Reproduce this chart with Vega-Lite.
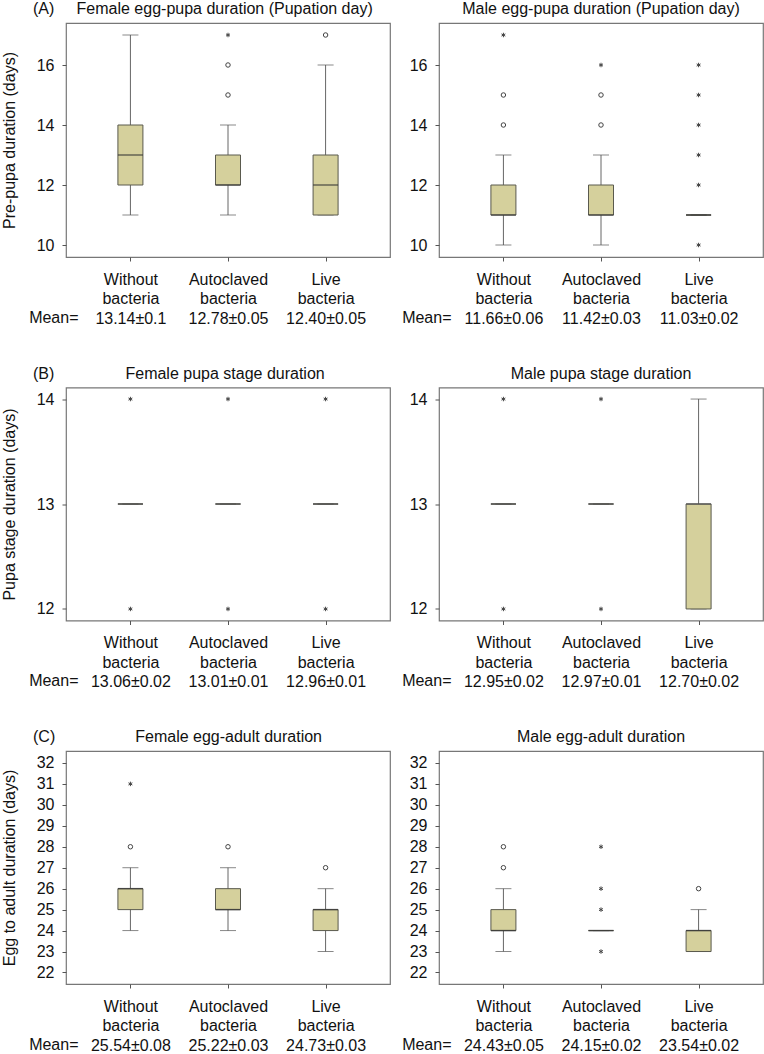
{
  "$schema": "https://vega.github.io/schema/vega-lite/v6.json",
  "padding": {"left": 0, "top": 0, "right": 0, "bottom": 0},
  "background": "white",
  "data": {"values": [
    {"panel":"A1","g":1,"lab":"Without|bacteria|13.14±0.1","kind":"box","lower":11,"q1":12,"median":13,"q3":14,"upper":17},
    {"panel":"A1","g":2,"lab":"Autoclaved|bacteria|12.78±0.05","kind":"box","lower":11,"q1":12,"median":12,"q3":13,"upper":14},
    {"panel":"A1","g":3,"lab":"Live|bacteria|12.40±0.05","kind":"box","lower":11,"q1":11,"median":12,"q3":13,"upper":16},
    {"panel":"A1","g":2,"lab":"Autoclaved|bacteria|12.78±0.05","kind":"circle","v":15},
    {"panel":"A1","g":2,"lab":"Autoclaved|bacteria|12.78±0.05","kind":"circle","v":16},
    {"panel":"A1","g":2,"lab":"Autoclaved|bacteria|12.78±0.05","kind":"star","v":17},
    {"panel":"A1","g":3,"lab":"Live|bacteria|12.40±0.05","kind":"circle","v":17},

    {"panel":"A2","g":1,"lab":"Without|bacteria|11.66±0.06","kind":"box","lower":10,"q1":11,"median":11,"q3":12,"upper":13},
    {"panel":"A2","g":2,"lab":"Autoclaved|bacteria|11.42±0.03","kind":"box","lower":10,"q1":11,"median":11,"q3":12,"upper":13},
    {"panel":"A2","g":3,"lab":"Live|bacteria|11.03±0.02","kind":"box","lower":11,"q1":11,"median":11,"q3":11,"upper":11},
    {"panel":"A2","g":1,"lab":"Without|bacteria|11.66±0.06","kind":"circle","v":14},
    {"panel":"A2","g":1,"lab":"Without|bacteria|11.66±0.06","kind":"circle","v":15},
    {"panel":"A2","g":1,"lab":"Without|bacteria|11.66±0.06","kind":"star","v":17},
    {"panel":"A2","g":2,"lab":"Autoclaved|bacteria|11.42±0.03","kind":"circle","v":14},
    {"panel":"A2","g":2,"lab":"Autoclaved|bacteria|11.42±0.03","kind":"circle","v":15},
    {"panel":"A2","g":2,"lab":"Autoclaved|bacteria|11.42±0.03","kind":"star","v":16},
    {"panel":"A2","g":3,"lab":"Live|bacteria|11.03±0.02","kind":"star","v":10},
    {"panel":"A2","g":3,"lab":"Live|bacteria|11.03±0.02","kind":"star","v":12},
    {"panel":"A2","g":3,"lab":"Live|bacteria|11.03±0.02","kind":"star","v":13},
    {"panel":"A2","g":3,"lab":"Live|bacteria|11.03±0.02","kind":"star","v":14},
    {"panel":"A2","g":3,"lab":"Live|bacteria|11.03±0.02","kind":"star","v":15},
    {"panel":"A2","g":3,"lab":"Live|bacteria|11.03±0.02","kind":"star","v":16},

    {"panel":"B1","g":1,"lab":"Without|bacteria|13.06±0.02","kind":"box","lower":13,"q1":13,"median":13,"q3":13,"upper":13},
    {"panel":"B1","g":2,"lab":"Autoclaved|bacteria|13.01±0.01","kind":"box","lower":13,"q1":13,"median":13,"q3":13,"upper":13},
    {"panel":"B1","g":3,"lab":"Live|bacteria|12.96±0.01","kind":"box","lower":13,"q1":13,"median":13,"q3":13,"upper":13},
    {"panel":"B1","g":1,"lab":"Without|bacteria|13.06±0.02","kind":"star","v":12},
    {"panel":"B1","g":1,"lab":"Without|bacteria|13.06±0.02","kind":"star","v":14},
    {"panel":"B1","g":2,"lab":"Autoclaved|bacteria|13.01±0.01","kind":"star","v":12},
    {"panel":"B1","g":2,"lab":"Autoclaved|bacteria|13.01±0.01","kind":"star","v":14},
    {"panel":"B1","g":3,"lab":"Live|bacteria|12.96±0.01","kind":"star","v":12},
    {"panel":"B1","g":3,"lab":"Live|bacteria|12.96±0.01","kind":"star","v":14},

    {"panel":"B2","g":1,"lab":"Without|bacteria|12.95±0.02","kind":"box","lower":13,"q1":13,"median":13,"q3":13,"upper":13},
    {"panel":"B2","g":2,"lab":"Autoclaved|bacteria|12.97±0.01","kind":"box","lower":13,"q1":13,"median":13,"q3":13,"upper":13},
    {"panel":"B2","g":3,"lab":"Live|bacteria|12.70±0.02","kind":"box","lower":12,"q1":12,"median":13,"q3":13,"upper":14},
    {"panel":"B2","g":1,"lab":"Without|bacteria|12.95±0.02","kind":"star","v":12},
    {"panel":"B2","g":1,"lab":"Without|bacteria|12.95±0.02","kind":"star","v":14},
    {"panel":"B2","g":2,"lab":"Autoclaved|bacteria|12.97±0.01","kind":"star","v":12},
    {"panel":"B2","g":2,"lab":"Autoclaved|bacteria|12.97±0.01","kind":"star","v":14},

    {"panel":"C1","g":1,"lab":"Without|bacteria|25.54±0.08","kind":"box","lower":24,"q1":25,"median":26,"q3":26,"upper":27},
    {"panel":"C1","g":2,"lab":"Autoclaved|bacteria|25.22±0.03","kind":"box","lower":24,"q1":25,"median":25,"q3":26,"upper":27},
    {"panel":"C1","g":3,"lab":"Live|bacteria|24.73±0.03","kind":"box","lower":23,"q1":24,"median":25,"q3":25,"upper":26},
    {"panel":"C1","g":1,"lab":"Without|bacteria|25.54±0.08","kind":"circle","v":28},
    {"panel":"C1","g":1,"lab":"Without|bacteria|25.54±0.08","kind":"star","v":31},
    {"panel":"C1","g":2,"lab":"Autoclaved|bacteria|25.22±0.03","kind":"circle","v":28},
    {"panel":"C1","g":3,"lab":"Live|bacteria|24.73±0.03","kind":"circle","v":27},

    {"panel":"C2","g":1,"lab":"Without|bacteria|24.43±0.05","kind":"box","lower":23,"q1":24,"median":24,"q3":25,"upper":26},
    {"panel":"C2","g":2,"lab":"Autoclaved|bacteria|24.15±0.02","kind":"box","lower":24,"q1":24,"median":24,"q3":24,"upper":24},
    {"panel":"C2","g":3,"lab":"Live|bacteria|23.54±0.02","kind":"box","lower":23,"q1":23,"median":24,"q3":24,"upper":25},
    {"panel":"C2","g":1,"lab":"Without|bacteria|24.43±0.05","kind":"circle","v":27},
    {"panel":"C2","g":1,"lab":"Without|bacteria|24.43±0.05","kind":"circle","v":28},
    {"panel":"C2","g":2,"lab":"Autoclaved|bacteria|24.15±0.02","kind":"star","v":23},
    {"panel":"C2","g":2,"lab":"Autoclaved|bacteria|24.15±0.02","kind":"star","v":25},
    {"panel":"C2","g":2,"lab":"Autoclaved|bacteria|24.15±0.02","kind":"star","v":26},
    {"panel":"C2","g":2,"lab":"Autoclaved|bacteria|24.15±0.02","kind":"star","v":28},
    {"panel":"C2","g":3,"lab":"Live|bacteria|23.54±0.02","kind":"circle","v":26}
  ]},
  "vconcat": [
    {"spacing": 10, "hconcat": [
      {"width": 324, "height": 234,
       "title": {"text": "(A)\u00a0\u00a0\u00a0\u00a0\u00a0Female egg-pupa duration (Pupation day)", "anchor": "start", "dx": -33},
       "transform": [{"filter": "datum.panel == 'A1'"}],
       "encoding": {"x": {"field": "lab", "type": "nominal", "sort": {"field": "g", "op": "min"}, "scale": {"type": "point", "padding": 0.66}, "title": "Mean="}},
       "layer": [
         {"transform": [{"filter": "datum.kind == 'box'"}], "layer": [
           {"mark": {"type": "rule", "color": "#666", "strokeWidth": 1}, "encoding": {"y": {"field": "lower", "type": "quantitative", "scale": {"domain": [9.6, 17.4]}, "axis": {"tickCount": 4}, "title": "Pre-pupa duration (days)"}, "y2": {"field": "upper"}}},
           {"mark": {"type": "tick", "color": "#555", "size": 16, "thickness": 1}, "encoding": {"y": {"field": "lower", "type": "quantitative", "scale": {"domain": [9.6, 17.4]}, "axis": {"tickCount": 4}, "title": "Pre-pupa duration (days)"}}},
           {"mark": {"type": "tick", "color": "#555", "size": 16, "thickness": 1}, "encoding": {"y": {"field": "upper", "type": "quantitative", "scale": {"domain": [9.6, 17.4]}, "axis": {"tickCount": 4}, "title": "Pre-pupa duration (days)"}}},
           {"mark": {"type": "bar", "size": 25, "fill": "#d5d09c", "stroke": "#5a5a4e", "strokeWidth": 1}, "encoding": {"y": {"field": "q1", "type": "quantitative", "scale": {"domain": [9.6, 17.4]}, "axis": {"tickCount": 4}, "title": "Pre-pupa duration (days)"}, "y2": {"field": "q3"}}},
           {"mark": {"type": "tick", "color": "#333", "size": 25, "thickness": 1.5}, "encoding": {"y": {"field": "median", "type": "quantitative", "scale": {"domain": [9.6, 17.4]}, "axis": {"tickCount": 4}, "title": "Pre-pupa duration (days)"}}}
         ]},
         {"transform": [{"filter": "datum.kind != 'box'"}], "mark": {"type": "point", "filled": false, "size": 20, "color": "#444", "strokeWidth": 1, "opacity": 1},
          "encoding": {"y": {"field": "v", "type": "quantitative", "scale": {"domain": [9.6, 17.4]}, "axis": {"tickCount": 4}, "title": "Pre-pupa duration (days)"},
                       "shape": {"field": "kind", "type": "nominal", "scale": {"domain": ["circle", "star"], "range": ["circle", "M0,-1L0,1M-0.87,-0.5L0.87,0.5M-0.87,0.5L0.87,-0.5"]}, "legend": null}}}
       ]},
      {"width": 324, "height": 234,
       "title": {"text": "Male egg-pupa duration (Pupation day)"},
       "transform": [{"filter": "datum.panel == 'A2'"}],
       "encoding": {"x": {"field": "lab", "type": "nominal", "sort": {"field": "g", "op": "min"}, "scale": {"type": "point", "padding": 0.66}, "title": "Mean="}},
       "layer": [
         {"transform": [{"filter": "datum.kind == 'box'"}], "layer": [
           {"mark": {"type": "rule", "color": "#666", "strokeWidth": 1}, "encoding": {"y": {"field": "lower", "type": "quantitative", "scale": {"domain": [9.6, 17.4]}, "axis": {"tickCount": 4}, "title": null}, "y2": {"field": "upper"}}},
           {"mark": {"type": "tick", "color": "#555", "size": 16, "thickness": 1}, "encoding": {"y": {"field": "lower", "type": "quantitative", "scale": {"domain": [9.6, 17.4]}, "axis": {"tickCount": 4}, "title": null}}},
           {"mark": {"type": "tick", "color": "#555", "size": 16, "thickness": 1}, "encoding": {"y": {"field": "upper", "type": "quantitative", "scale": {"domain": [9.6, 17.4]}, "axis": {"tickCount": 4}, "title": null}}},
           {"mark": {"type": "bar", "size": 25, "fill": "#d5d09c", "stroke": "#5a5a4e", "strokeWidth": 1}, "encoding": {"y": {"field": "q1", "type": "quantitative", "scale": {"domain": [9.6, 17.4]}, "axis": {"tickCount": 4}, "title": null}, "y2": {"field": "q3"}}},
           {"mark": {"type": "tick", "color": "#333", "size": 25, "thickness": 1.5}, "encoding": {"y": {"field": "median", "type": "quantitative", "scale": {"domain": [9.6, 17.4]}, "axis": {"tickCount": 4}, "title": null}}}
         ]},
         {"transform": [{"filter": "datum.kind != 'box'"}], "mark": {"type": "point", "filled": false, "size": 20, "color": "#444", "strokeWidth": 1, "opacity": 1},
          "encoding": {"y": {"field": "v", "type": "quantitative", "scale": {"domain": [9.6, 17.4]}, "axis": {"tickCount": 4}, "title": null},
                       "shape": {"field": "kind", "type": "nominal", "scale": {"domain": ["circle", "star"], "range": ["circle", "M0,-1L0,1M-0.87,-0.5L0.87,0.5M-0.87,0.5L0.87,-0.5"]}, "legend": null}}}
       ]}
    ]},
    {"spacing": 10, "hconcat": [
      {"width": 324, "height": 233,
       "title": {"text": "(B)\u00a0\u00a0\u00a0\u00a0\u00a0\u00a0\u00a0\u00a0\u00a0\u00a0\u00a0\u00a0\u00a0\u00a0\u00a0\u00a0Female pupa stage duration", "anchor": "start", "dx": -33},
       "transform": [{"filter": "datum.panel == 'B1'"}],
       "encoding": {"x": {"field": "lab", "type": "nominal", "sort": {"field": "g", "op": "min"}, "scale": {"type": "point", "padding": 0.66}, "title": "Mean="}},
       "layer": [
         {"transform": [{"filter": "datum.kind == 'box'"}], "layer": [
           {"mark": {"type": "rule", "color": "#666", "strokeWidth": 1}, "encoding": {"y": {"field": "lower", "type": "quantitative", "scale": {"domain": [11.89, 14.11]}, "axis": {"tickCount": 3}, "title": "Pupa stage duration (days)"}, "y2": {"field": "upper"}}},
           {"mark": {"type": "tick", "color": "#555", "size": 16, "thickness": 1}, "encoding": {"y": {"field": "lower", "type": "quantitative", "scale": {"domain": [11.89, 14.11]}, "axis": {"tickCount": 3}, "title": "Pupa stage duration (days)"}}},
           {"mark": {"type": "tick", "color": "#555", "size": 16, "thickness": 1}, "encoding": {"y": {"field": "upper", "type": "quantitative", "scale": {"domain": [11.89, 14.11]}, "axis": {"tickCount": 3}, "title": "Pupa stage duration (days)"}}},
           {"mark": {"type": "bar", "size": 25, "fill": "#d5d09c", "stroke": "#5a5a4e", "strokeWidth": 1}, "encoding": {"y": {"field": "q1", "type": "quantitative", "scale": {"domain": [11.89, 14.11]}, "axis": {"tickCount": 3}, "title": "Pupa stage duration (days)"}, "y2": {"field": "q3"}}},
           {"mark": {"type": "tick", "color": "#555", "size": 25, "thickness": 1.8}, "encoding": {"y": {"field": "median", "type": "quantitative", "scale": {"domain": [11.89, 14.11]}, "axis": {"tickCount": 3}, "title": "Pupa stage duration (days)"}}}
         ]},
         {"transform": [{"filter": "datum.kind != 'box'"}], "mark": {"type": "point", "filled": false, "size": 20, "color": "#444", "strokeWidth": 1, "opacity": 1},
          "encoding": {"y": {"field": "v", "type": "quantitative", "scale": {"domain": [11.89, 14.11]}, "axis": {"tickCount": 3}, "title": "Pupa stage duration (days)"},
                       "shape": {"field": "kind", "type": "nominal", "scale": {"domain": ["circle", "star"], "range": ["circle", "M0,-1L0,1M-0.87,-0.5L0.87,0.5M-0.87,0.5L0.87,-0.5"]}, "legend": null}}}
       ]},
      {"width": 324, "height": 233,
       "title": {"text": "Male pupa stage duration"},
       "transform": [{"filter": "datum.panel == 'B2'"}],
       "encoding": {"x": {"field": "lab", "type": "nominal", "sort": {"field": "g", "op": "min"}, "scale": {"type": "point", "padding": 0.66}, "title": "Mean="}},
       "layer": [
         {"transform": [{"filter": "datum.kind == 'box'"}], "layer": [
           {"mark": {"type": "rule", "color": "#666", "strokeWidth": 1}, "encoding": {"y": {"field": "lower", "type": "quantitative", "scale": {"domain": [11.89, 14.11]}, "axis": {"tickCount": 3}, "title": null}, "y2": {"field": "upper"}}},
           {"mark": {"type": "tick", "color": "#555", "size": 16, "thickness": 1}, "encoding": {"y": {"field": "lower", "type": "quantitative", "scale": {"domain": [11.89, 14.11]}, "axis": {"tickCount": 3}, "title": null}}},
           {"mark": {"type": "tick", "color": "#555", "size": 16, "thickness": 1}, "encoding": {"y": {"field": "upper", "type": "quantitative", "scale": {"domain": [11.89, 14.11]}, "axis": {"tickCount": 3}, "title": null}}},
           {"mark": {"type": "bar", "size": 25, "fill": "#d5d09c", "stroke": "#5a5a4e", "strokeWidth": 1}, "encoding": {"y": {"field": "q1", "type": "quantitative", "scale": {"domain": [11.89, 14.11]}, "axis": {"tickCount": 3}, "title": null}, "y2": {"field": "q3"}}},
           {"mark": {"type": "tick", "color": "#555", "size": 25, "thickness": 1.8}, "encoding": {"y": {"field": "median", "type": "quantitative", "scale": {"domain": [11.89, 14.11]}, "axis": {"tickCount": 3}, "title": null}}}
         ]},
         {"transform": [{"filter": "datum.kind != 'box'"}], "mark": {"type": "point", "filled": false, "size": 20, "color": "#444", "strokeWidth": 1, "opacity": 1},
          "encoding": {"y": {"field": "v", "type": "quantitative", "scale": {"domain": [11.89, 14.11]}, "axis": {"tickCount": 3}, "title": null},
                       "shape": {"field": "kind", "type": "nominal", "scale": {"domain": ["circle", "star"], "range": ["circle", "M0,-1L0,1M-0.87,-0.5L0.87,0.5M-0.87,0.5L0.87,-0.5"]}, "legend": null}}}
       ]}
    ]},
    {"spacing": 10, "hconcat": [
      {"width": 324, "height": 233,
       "title": {"text": "(C)\u00a0\u00a0\u00a0\u00a0\u00a0\u00a0\u00a0\u00a0\u00a0\u00a0\u00a0\u00a0\u00a0\u00a0\u00a0\u00a0\u00a0\u00a0Female egg-adult duration", "anchor": "start", "dx": -33},
       "transform": [{"filter": "datum.panel == 'C1'"}],
       "encoding": {"x": {"field": "lab", "type": "nominal", "sort": {"field": "g", "op": "min"}, "scale": {"type": "point", "padding": 0.66}, "title": "Mean="}},
       "layer": [
         {"transform": [{"filter": "datum.kind == 'box'"}], "layer": [
           {"mark": {"type": "rule", "color": "#666", "strokeWidth": 1}, "encoding": {"y": {"field": "lower", "type": "quantitative", "scale": {"domain": [21.45, 32.57]}, "axis": {"tickCount": 11}, "title": "Egg to adult duration (days)"}, "y2": {"field": "upper"}}},
           {"mark": {"type": "tick", "color": "#555", "size": 16, "thickness": 1}, "encoding": {"y": {"field": "lower", "type": "quantitative", "scale": {"domain": [21.45, 32.57]}, "axis": {"tickCount": 11}, "title": "Egg to adult duration (days)"}}},
           {"mark": {"type": "tick", "color": "#555", "size": 16, "thickness": 1}, "encoding": {"y": {"field": "upper", "type": "quantitative", "scale": {"domain": [21.45, 32.57]}, "axis": {"tickCount": 11}, "title": "Egg to adult duration (days)"}}},
           {"mark": {"type": "bar", "size": 25, "fill": "#d5d09c", "stroke": "#5a5a4e", "strokeWidth": 1}, "encoding": {"y": {"field": "q1", "type": "quantitative", "scale": {"domain": [21.45, 32.57]}, "axis": {"tickCount": 11}, "title": "Egg to adult duration (days)"}, "y2": {"field": "q3"}}},
           {"mark": {"type": "tick", "color": "#333", "size": 25, "thickness": 1.5}, "encoding": {"y": {"field": "median", "type": "quantitative", "scale": {"domain": [21.45, 32.57]}, "axis": {"tickCount": 11}, "title": "Egg to adult duration (days)"}}}
         ]},
         {"transform": [{"filter": "datum.kind != 'box'"}], "mark": {"type": "point", "filled": false, "size": 20, "color": "#444", "strokeWidth": 1, "opacity": 1},
          "encoding": {"y": {"field": "v", "type": "quantitative", "scale": {"domain": [21.45, 32.57]}, "axis": {"tickCount": 11}, "title": "Egg to adult duration (days)"},
                       "shape": {"field": "kind", "type": "nominal", "scale": {"domain": ["circle", "star"], "range": ["circle", "M0,-1L0,1M-0.87,-0.5L0.87,0.5M-0.87,0.5L0.87,-0.5"]}, "legend": null}}}
       ]},
      {"width": 324, "height": 233,
       "title": {"text": "Male egg-adult duration"},
       "transform": [{"filter": "datum.panel == 'C2'"}],
       "encoding": {"x": {"field": "lab", "type": "nominal", "sort": {"field": "g", "op": "min"}, "scale": {"type": "point", "padding": 0.66}, "title": "Mean="}},
       "layer": [
         {"transform": [{"filter": "datum.kind == 'box'"}], "layer": [
           {"mark": {"type": "rule", "color": "#666", "strokeWidth": 1}, "encoding": {"y": {"field": "lower", "type": "quantitative", "scale": {"domain": [21.45, 32.57]}, "axis": {"tickCount": 11}, "title": null}, "y2": {"field": "upper"}}},
           {"mark": {"type": "tick", "color": "#555", "size": 16, "thickness": 1}, "encoding": {"y": {"field": "lower", "type": "quantitative", "scale": {"domain": [21.45, 32.57]}, "axis": {"tickCount": 11}, "title": null}}},
           {"mark": {"type": "tick", "color": "#555", "size": 16, "thickness": 1}, "encoding": {"y": {"field": "upper", "type": "quantitative", "scale": {"domain": [21.45, 32.57]}, "axis": {"tickCount": 11}, "title": null}}},
           {"mark": {"type": "bar", "size": 25, "fill": "#d5d09c", "stroke": "#5a5a4e", "strokeWidth": 1}, "encoding": {"y": {"field": "q1", "type": "quantitative", "scale": {"domain": [21.45, 32.57]}, "axis": {"tickCount": 11}, "title": null}, "y2": {"field": "q3"}}},
           {"mark": {"type": "tick", "color": "#333", "size": 25, "thickness": 1.5}, "encoding": {"y": {"field": "median", "type": "quantitative", "scale": {"domain": [21.45, 32.57]}, "axis": {"tickCount": 11}, "title": null}}}
         ]},
         {"transform": [{"filter": "datum.kind != 'box'"}], "mark": {"type": "point", "filled": false, "size": 20, "color": "#444", "strokeWidth": 1, "opacity": 1},
          "encoding": {"y": {"field": "v", "type": "quantitative", "scale": {"domain": [21.45, 32.57]}, "axis": {"tickCount": 11}, "title": null},
                       "shape": {"field": "kind", "type": "nominal", "scale": {"domain": ["circle", "star"], "range": ["circle", "M0,-1L0,1M-0.87,-0.5L0.87,0.5M-0.87,0.5L0.87,-0.5"]}, "legend": null}}}
       ]}
    ]}
  ],
  "spacing": 37.5,
  "config": {
    "font": "Liberation Sans",
    "view": {"stroke": "#777", "strokeWidth": 1.2},
    "title": {"fontSize": 16, "fontWeight": "normal", "color": "#111", "offset": 6, "frame": "group"},
    "axis": {"grid": false, "domain": false, "labelFontSize": 16, "labelColor": "#111", "titleFontSize": 16, "titleFontWeight": "normal", "titleColor": "#111", "tickColor": "#555", "tickSize": 4},
    "axisY": {"labelPadding": 8, "titlePadding": 19},
    "axisX": {"labelAngle": 0, "labelPadding": 10, "labelLineHeight": 19.5, "labelOverlap": false, "labelExpr": "split(datum.label, '|')", "titleX": 12, "titleY": 65, "titleAlign": "right", "titleBaseline": "alphabetic"}
  }
}
